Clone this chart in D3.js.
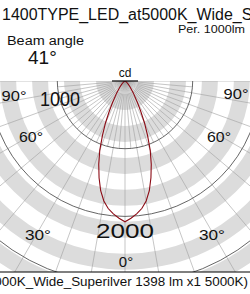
<!DOCTYPE html>
<html><head><meta charset="utf-8">
<script src="https://cdn.jsdelivr.net/npm/d3@7/dist/d3.min.js"></script>
<style>html,body{margin:0;padding:0;background:#fff;overflow:hidden}</style>
</head><body>
<script>
// ---- data ----
const gammaAngles = [0,2.5,5,7.5,10,12.5,15,17.5,20,22.5,25,27.5,30,35,40,45,50,60,70,80,90];
const candela     = [2080,2030,1970,1900,1800,1660,1480,1290,1090,870,680,500,370,210,120,70,40,15,5,2,0];
const ringValues  = [1000,2000,3000];
const ringLabels  = ["1000","2000"];
const angleLabels = ["90°","60°","30°","0°"];
const majorSpokes = d3.range(-90, 100, 10);
const minorSpokes = d3.range(-85, 90, 10);
const bandStart = 192;   // cd, first band edge
const bandStep  = 236;   // cd, band width
const titleText  = "1400TYPE_LED_at5000K_Wide_Superilver";
const footerText = "(1400TYPE_LED_at5000K_Wide_Superilver 1398 lm x1 5000K)";

const W = 250, H = 294;
const cx = 125, cy = 81;
const plotBottom = 272;

const svg = d3.select("body").append("svg").attr("width", W).attr("height", H)
  .style("font-family", "'Liberation Sans', Arial, sans-serif");

const r = d3.scaleLinear().domain([0, 1000]).range([0, 67.7]);
const toRad = d => (180 - d) * Math.PI / 180;

svg.append("defs").append("clipPath").attr("id", "pc")
  .append("rect").attr("x", 0).attr("y", cy).attr("width", W).attr("height", plotBottom - cy);

const g = svg.append("g").attr("clip-path", "url(#pc)");
const c = g.append("g").attr("transform", `translate(${cx},${cy})`);

// alternating bands
const bands = d3.range(0, 10).map(k => [bandStart + 2*k*bandStep, bandStart + (2*k+1)*bandStep]);
const arcGen = d3.arc();
c.selectAll("path.band").data(bands).join("path")
  .attr("class","band")
  .attr("d", d => arcGen({innerRadius: r(d[0]), outerRadius: r(d[1]), startAngle: 0, endAngle: 2*Math.PI}))
  .attr("fill", "#dcdcdc");

// spokes
const spoke = (sel, data, len) => c.selectAll(sel).data(data).join("line")
  .attr("x1", 0).attr("y1", 0)
  .attr("x2", d => len * Math.sin(toRad(d)))
  .attr("y2", d => -len * Math.cos(toRad(d)))
  .attr("stroke", "#a0a0a0").attr("stroke-width", 0.6);
spoke("line.major", majorSpokes, r(4000)).attr("class","major");
spoke("line.minor", minorSpokes, r(1000)).attr("class","minor");

// rings
c.selectAll("circle.ring").data(ringValues).join("circle")
  .attr("class","ring").attr("r", d => r(d))
  .attr("fill","none").attr("stroke","#555").attr("stroke-width",0.9);

// curve
const pts = [];
for (let i = gammaAngles.length - 1; i >= 0; i--) pts.push([-gammaAngles[i], candela[i]]);
for (let i = 1; i < gammaAngles.length; i++) pts.push([gammaAngles[i], candela[i]]);
const line = d3.lineRadial().angle(d => toRad(d[0])).radius(d => r(d[1])).curve(d3.curveLinearClosed);
c.append("path").attr("d", line(pts)).attr("fill","none").attr("stroke","#8b0a14").attr("stroke-width",1.1);

// frame lines
svg.append("line").attr("x1", cx - r(bandStart)).attr("x2", cx + r(bandStart)).attr("y1", cy).attr("y2", cy)
  .attr("stroke","#000").attr("stroke-width",1.2);
svg.append("line").attr("x1", 0).attr("x2", W).attr("y1", plotBottom).attr("y2", plotBottom)
  .attr("stroke","#000").attr("stroke-width",1.2);

// texts
const txt = (s, x, y, size, anchor="start", len=null) => {
  const t = svg.append("text").text(s)
    .attr("x", x).attr("y", y).attr("font-size", size).attr("text-anchor", anchor).attr("fill","#111");
  if (len) t.attr("textLength", len).attr("lengthAdjust", "spacingAndGlyphs");
  return t;
};
const measure = (s, size) => {
  const t = svg.append("text").text(s).attr("font-size", size).attr("x", -1000).attr("y", -1000);
  const w = t.node().getComputedTextLength();
  t.remove();
  return w;
};

// title: fit so that "..._Wide_" ends near x=242
{
  const pre = titleText.slice(0, titleText.indexOf("Superilver"));
  const fs = 17 * 240 / measure(pre, 17);
  txt(titleText, 2, 20, fs);
}
txt("Per. 1000lm", 245, 33, 11.5, "end", 67);
txt("Beam angle", 7, 45, 12.5, "start", 77);
txt("41°", 28, 64, 19);
txt("cd", cx, 77, 12, "middle");

txt(angleLabels[0], 14, 101, 15, "middle", 25);
txt(angleLabels[0], 236, 99, 15, "middle", 25);
txt(angleLabels[1], 31, 142, 15, "middle", 24);
txt(angleLabels[1], 219, 142, 15, "middle", 24);
txt(angleLabels[2], 38, 240, 15, "middle", 26);
txt(angleLabels[2], 212, 240, 15, "middle", 26);
txt(angleLabels[3], 126, 267, 15, "middle");

txt(ringLabels[0], 60, 106, 20, "middle", 40);
txt(ringLabels[1], cx, 238, 21, "middle", 58);

// footer: visible part from "000K_Wide" fills the width (font size fitted, right-anchored)
{
  const vis = footerText.slice(footerText.indexOf("000K_Wide"));
  const fs = 12.5 * 254 / measure(vis, 12.5);
  txt(footerText, 248, 286, fs, "end");
}
</script>
</body></html>
